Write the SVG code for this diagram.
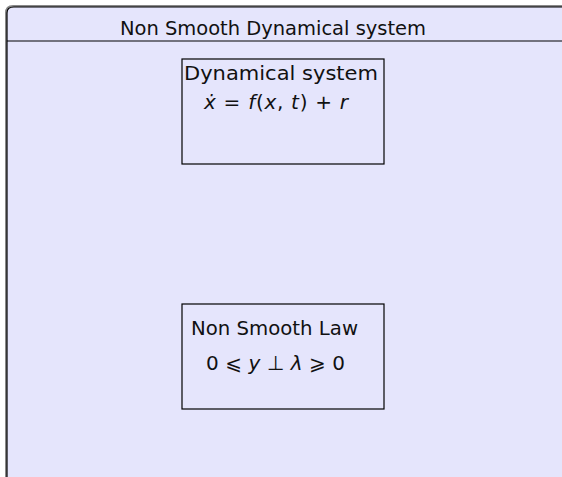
<svg xmlns="http://www.w3.org/2000/svg" width="562" height="477" viewBox="0 0 562 477">
<style>
.frame{fill:#e5e5fc;stroke:#000;stroke-width:1.2}
.box{fill:#e5e5fc;stroke:#000;stroke-width:1.2}
.lbl{font-family:"DejaVu Sans","Liberation Sans",sans-serif;font-size:20px;fill:#111}
.math{font-family:"DejaVu Sans","Liberation Sans",sans-serif;font-size:20px;fill:#111}
.it{font-style:italic}
</style>
<rect width="562" height="477" fill="#ffffff"/>
<g id="frame">
<path d="M6,477 V13 Q6,6 13,6 H563" fill="none" stroke="#888" stroke-width="2"/>
<path class="frame" d="M7,477 V13 Q7,7 14,7 H563 V478 H7 Z"/>
<line x1="7" y1="41" x2="562" y2="41" stroke="#000" stroke-width="1.2"/>
<text class="lbl" x="273" y="34.5" text-anchor="middle" textLength="306" lengthAdjust="spacingAndGlyphs">Non Smooth Dynamical system</text>
</g>
<g id="dynamical-system">
<rect class="box" x="182" y="59" width="202" height="105"/>
<text class="lbl" x="184" y="80" textLength="194" lengthAdjust="spacingAndGlyphs">Dynamical system</text>
<text class="math" x="204" y="109" textLength="144" lengthAdjust="spacing"><tspan class="it">ẋ</tspan> = <tspan class="it">f</tspan>(<tspan class="it">x</tspan>, <tspan class="it">t</tspan>) + <tspan class="it">r</tspan></text>
</g>
<g id="non-smooth-law">
<rect class="box" x="182" y="304" width="202" height="105"/>
<text class="lbl" x="191" y="335" textLength="167" lengthAdjust="spacingAndGlyphs">Non Smooth Law</text>
<text class="math" x="206" y="370" textLength="139" lengthAdjust="spacing">0 ⩽ <tspan class="it">y</tspan> ⊥ <tspan class="it">λ</tspan> ⩾ 0</text>
</g>
<g id="connectors"></g>
</svg>
